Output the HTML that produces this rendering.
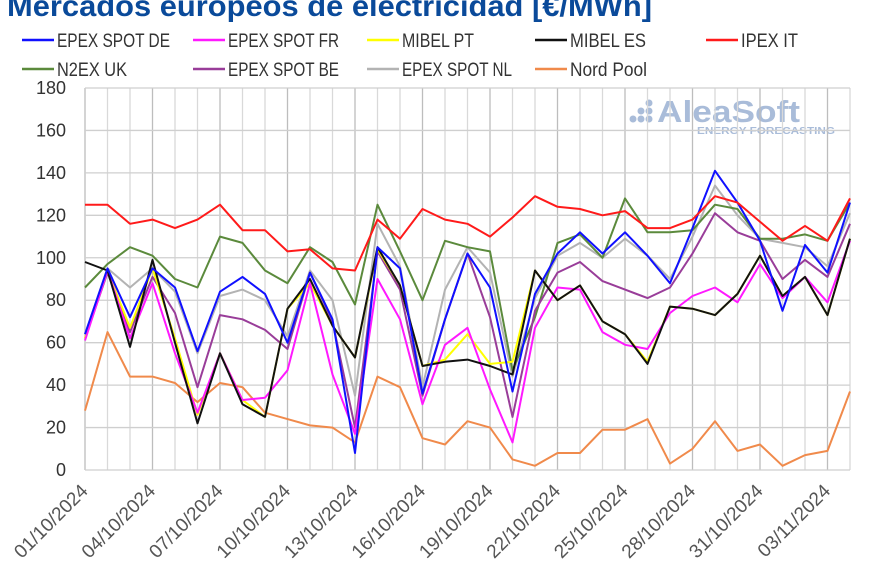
<!DOCTYPE html>
<html><head><meta charset="utf-8"><style>
body{margin:0;background:#fff;width:870px;height:570px;overflow:hidden;font-family:"Liberation Sans",sans-serif}
</style></head><body>
<svg id="c" width="870" height="570" xmlns="http://www.w3.org/2000/svg">
<text x="7" y="16" font-family="Liberation Sans, sans-serif" font-weight="bold" font-size="30" fill="#0a4a9a" textLength="645" lengthAdjust="spacingAndGlyphs">Mercados europeos de electricidad [€/MWh]</text>
<g id="wm" fill="#a9bcd9">
<circle cx="633" cy="119" r="3.5"/><circle cx="641" cy="119" r="3.5"/><circle cx="649" cy="119" r="3.5"/><circle cx="641" cy="111" r="3.5"/><circle cx="649" cy="111" r="3.5"/><circle cx="649" cy="103" r="3.5"/>
<text x="657" y="122" font-size="31" font-weight="bold" font-family="Liberation Sans, sans-serif" textLength="143" lengthAdjust="spacingAndGlyphs">AleaSoft</text>
<text x="697" y="134" font-size="10" font-weight="bold" font-family="Liberation Sans, sans-serif" textLength="138" lengthAdjust="spacingAndGlyphs">ENERGY FORECASTING</text>
</g>
<g id="grid"></g><g id="axes"></g><g id="series"></g><g id="legend"></g>
</svg>
<script>
const dates=["01/10/2024","02/10/2024","03/10/2024","04/10/2024","05/10/2024","06/10/2024","07/10/2024","08/10/2024","09/10/2024","10/10/2024","11/10/2024","12/10/2024","13/10/2024","14/10/2024","15/10/2024","16/10/2024","17/10/2024","18/10/2024","19/10/2024","20/10/2024","21/10/2024","22/10/2024","23/10/2024","24/10/2024","25/10/2024","26/10/2024","27/10/2024","28/10/2024","29/10/2024","30/10/2024","31/10/2024","01/11/2024","02/11/2024","03/11/2024","04/11/2024"];
const yTicks=[0,20,40,60,80,100,120,140,160,180];
const deValues=[64,95,72,95,86,56,84,91,83,60,93,71,8,105,95,36,71,102,86,37,83,102,112,102,112,101,88,114,141,126,108,75,106,93,126];
const frValues=[61,94,62,88,55,27,55,33,34,47,88,45,17,90,71,31,59,67,38,13,67,86,85,65,59,57,74,82,86,79,97,81,91,79,108];
const ptValues=[62,94,67,95,62,26,55,33,25,76,88,68,53,104,87,49,52,64,50,51,94,80,87,70,64,51,77,76,73,83,101,82,91,73,109];
const esValues=[98,94,58,99,60,22,55,31,25,76,90,68,53,105,87,49,51,52,49,45,94,80,87,70,64,50,77,76,73,83,101,82,91,73,109];
const itValues=[125,125,116,118,114,118,125,113,113,103,104,95,94,118,109,123,118,116,110,119,129,124,123,120,122,114,114,118,129,126,117,108,115,108,128];
const ukValues=[86,97,105,101,90,86,110,107,94,88,105,98,78,125,103,80,108,105,103,47,72,107,111,100,128,112,112,113,125,123,109,109,111,108,126];
const beValues=[62,93,65,91,74,39,73,71,66,57,93,70,20,103,85,35,71,102,72,25,75,93,98,89,85,81,86,102,121,112,108,90,99,91,116];
const nlValues=[64,95,86,95,84,55,82,85,80,63,94,80,35,116,96,39,85,105,93,44,81,101,107,100,109,101,90,110,134,120,109,107,105,96,121];
const npValues=[28,65,44,44,41,32,41,39,27,24,21,20,13,44,39,15,12,23,20,5,2,8,8,19,19,24,3,10,23,9,12,2,7,9,37];
const series=[
 {n:"EPEX SPOT DE",c:"#1010ff",v:deValues,id:"de"},
 {n:"EPEX SPOT FR",c:"#ff19ff",v:frValues,id:"fr"},
 {n:"MIBEL PT",c:"#ffff00",v:ptValues,id:"pt"},
 {n:"MIBEL ES",c:"#111111",v:esValues,id:"es"},
 {n:"IPEX IT",c:"#ff1a1a",v:itValues,id:"it"},
 {n:"N2EX UK",c:"#5b8a3c",v:ukValues,id:"uk"},
 {n:"EPEX SPOT BE",c:"#993d99",v:beValues,id:"be"},
 {n:"EPEX SPOT NL",c:"#b3b3b3",v:nlValues,id:"nl"},
 {n:"Nord Pool",c:"#f08a4b",v:npValues,id:"np"}];
const drawOrder=["np","nl","uk","be","pt","fr","es","de","it"];
const X0=85,X1=850,Y0=470,Y1=88;
const x=i=>X0+(X1-X0)*i/(dates.length-1);
const y=v=>Y0-(Y0-Y1)*v/180;
const NS="http://www.w3.org/2000/svg";
function mk(tag,parent,attrs){const e=document.createElementNS(NS,tag);for(const k in attrs)e.setAttribute(k,attrs[k]);parent.appendChild(e);return e;}
const grid=document.getElementById('grid'),axes=document.getElementById('axes'),sg=document.getElementById('series'),lg=document.getElementById('legend');
dates.forEach((d,i)=>{
 const l=mk('line',grid,{x1:x(i),x2:x(i),y1:Y1,y2:Y0,stroke:i%3===0?'#bdbdbd':'#d9d9d9','stroke-width':1.3});
 
 
 if(i%3===0){
  const ax=x(i)+4,ay=Y0+22;
  const t=mk('text',axes,{x:ax,y:ay,'text-anchor':'end','font-size':19,fill:'#555',transform:`rotate(-45 ${ax} ${ay})`});
  t.textContent=d;
  
  
 }
});
yTicks.forEach(v=>{
 const l=mk('line',grid,{x1:X0,x2:X1,y1:y(v),y2:y(v),stroke:'#cfcfcf','stroke-width':1.3});
 
 
 const t=mk('text',axes,{x:66,y:y(v)+6,'text-anchor':'end','font-size':18,fill:'#333'});
 t.textContent=v;
 
 
});
drawOrder.forEach(id=>{
 const s=series.find(q=>q.id===id);
 const p=mk('polyline',sg,{points:s.v.map((v,i)=>x(i).toFixed(1)+','+y(v).toFixed(1)).join(' '),fill:'none',stroke:s.c,'stroke-width':2,'stroke-linejoin':'round'});
 
 
});
const lx=[22,193,367,535,706];
const tw=[113,111,72,76,57,70,111,110,77];
series.forEach((s,k)=>{
 const cx=lx[k%5],cy=k<5?40:69;
 const g=mk('g',lg,{});
 
 
 mk('line',g,{x1:cx,x2:cx+32,y1:cy,y2:cy,stroke:s.c,'stroke-width':2.5});
 const t=mk('text',g,{x:cx+35,y:cy+7,'font-size':19,fill:'#333',textLength:tw[k],lengthAdjust:'spacingAndGlyphs'});
 t.textContent=s.n;
});
</script>
</body></html>
